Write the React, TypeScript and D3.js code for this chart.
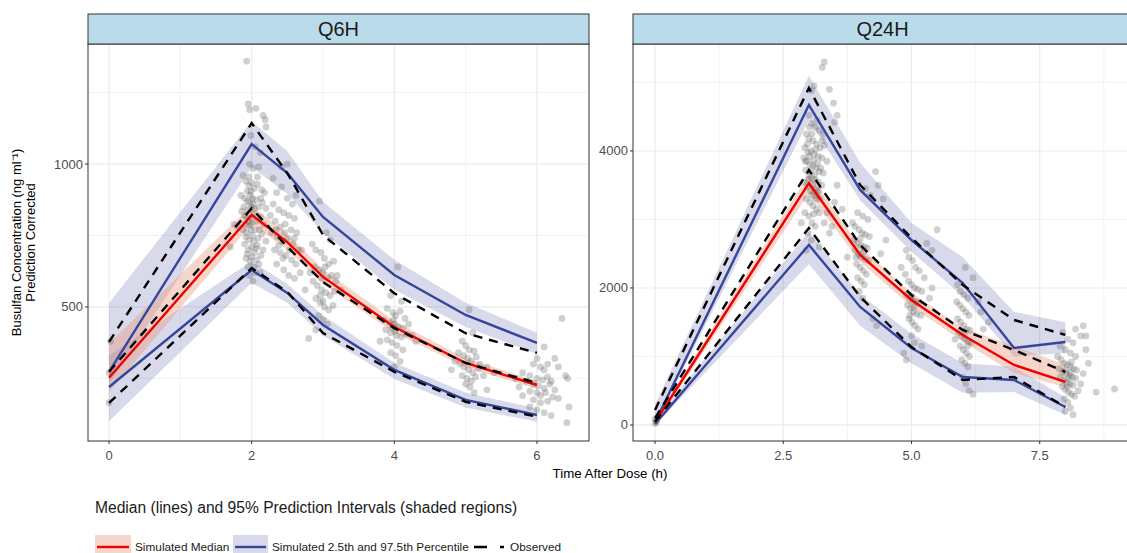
import * as d3 from 'd3';

type Pt = [number, number];

// ---- Q6H panel ----
const Q6H_TIME = [0, 2, 2.5, 3, 4, 5, 6];
const Q6H_SIM_MEDIAN = [252, 822, 727, 605, 430, 304, 227];
const Q6H_SIM_LOW = [220, 629, 549, 437, 280, 175, 122];
const Q6H_SIM_HIGH = [273, 1070, 968, 815, 612, 472, 374];
const Q6H_OBS_MEDIAN = [273, 845, 710, 587, 426, 304, 234];
const Q6H_OBS_LOW = [164, 636, 553, 409, 273, 168, 116];
const Q6H_OBS_HIGH = [378, 1143, 968, 752, 548, 408, 339];
const Q6H_MED_BAND_LO = [202, 790, 700, 580, 410, 290, 213];
const Q6H_MED_BAND_HI = [373, 855, 755, 632, 452, 320, 242];
const Q6H_HIGH_BAND_LO = [230, 990, 895, 760, 560, 430, 335];
const Q6H_HIGH_BAND_HI = [514, 1150, 1045, 868, 665, 515, 410];
const Q6H_LOW_BAND_LO = [100, 585, 515, 400, 248, 148, 98];
const Q6H_LOW_BAND_HI = [330, 660, 580, 470, 305, 200, 145];

const Q6H_POINTS: Pt[] = [
  [0.0, 165], [0.02, 380], [0.0, 270],
  [1.93, 1360], [1.95, 1210], [1.97, 1190], [2.06, 1195], [2.16, 1170], [2.19, 1155], [2.2, 1130],
  [1.99, 1100], [2.05, 1060], [2.12, 1040], [1.97, 1000], [2.02, 985], [2.1, 990], [1.88, 960],
  [1.92, 940], [1.96, 925], [2.0, 935], [2.04, 915], [2.08, 930], [2.14, 910], [2.18, 900],
  [1.85, 890], [1.9, 880], [1.94, 870], [1.98, 890], [2.02, 860], [2.06, 875], [2.1, 850],
  [2.15, 865], [2.2, 845], [1.86, 835], [1.9, 820], [1.95, 840], [1.99, 810], [2.03, 825],
  [2.07, 800], [2.12, 815], [2.17, 790], [1.8, 780], [1.88, 770], [1.93, 760], [1.97, 785],
  [2.01, 750], [2.05, 770], [2.09, 740], [2.14, 755], [2.2, 730], [1.9, 720], [1.95, 700],
  [2.0, 710], [2.04, 690], [2.08, 715], [2.13, 680], [1.92, 670], [1.98, 660], [2.03, 640],
  [2.1, 650], [1.97, 610], [2.02, 590], [2.05, 620], [1.75, 790], [1.7, 710],
  [1.96, 955], [1.99, 905], [2.01, 880], [1.94, 905], [1.97, 865], [2.0, 850], [1.93, 815],
  [1.96, 800], [2.0, 790], [2.04, 845], [1.92, 745], [1.96, 735], [1.99, 770], [2.03, 730],
  [2.06, 705], [2.11, 770], [1.94, 685], [2.0, 675], [2.07, 665], [2.16, 700], [1.91, 790],
  [1.89, 850], [2.08, 955], [2.13, 880], [1.95, 640], [2.12, 620],
  [2.3, 950], [2.35, 900], [2.42, 920], [2.5, 880], [2.57, 860], [2.62, 890], [2.3, 860],
  [2.38, 840], [2.45, 830], [2.52, 820], [2.6, 810], [2.33, 800], [2.4, 780], [2.47, 790],
  [2.55, 770], [2.63, 760], [2.28, 760], [2.36, 745], [2.44, 730], [2.5, 740], [2.58, 720],
  [2.65, 700], [2.32, 700], [2.4, 690], [2.48, 680], [2.56, 665], [2.62, 650], [2.35, 650],
  [2.45, 630], [2.52, 610], [2.6, 600], [2.42, 990], [2.5, 1000], [2.7, 700], [2.68, 620],
  [2.26, 820], [2.34, 770], [2.46, 760], [2.53, 700], [2.6, 740], [2.38, 715], [2.44, 670],
  [2.95, 870], [3.05, 760], [3.1, 735], [2.85, 720], [2.9, 700], [2.97, 690], [3.02, 670],
  [3.08, 650], [3.15, 660], [2.88, 640], [2.94, 630], [3.0, 620], [3.06, 600], [3.12, 610],
  [3.18, 590], [2.86, 590], [2.92, 575], [2.98, 560], [3.04, 550], [3.1, 540], [3.16, 555],
  [2.9, 530], [2.96, 515], [3.02, 500], [3.08, 490], [3.14, 505], [2.94, 470], [3.0, 455],
  [3.06, 440], [2.8, 390], [2.9, 420], [3.2, 610], [3.25, 560], [2.75, 560], [2.82, 620],
  [2.98, 600], [3.03, 640], [2.96, 540], [3.0, 520],
  [4.05, 640], [3.95, 540], [4.1, 520], [3.9, 495], [3.98, 480], [4.02, 470], [4.08, 485],
  [4.15, 460], [3.85, 455], [3.93, 445], [4.0, 440], [4.05, 430], [4.12, 425], [4.2, 440],
  [3.88, 420], [3.95, 410], [4.03, 400], [4.1, 395], [4.18, 405], [3.9, 385], [3.97, 375],
  [4.04, 365], [4.12, 350], [3.95, 340], [4.02, 330], [4.08, 310], [3.8, 380], [4.3, 380],
  [4.25, 400], [4.0, 290], [3.99, 455], [4.01, 415], [3.97, 430],
  [5.05, 490], [5.1, 410], [4.95, 380], [5.0, 365], [5.05, 350], [5.12, 345], [4.9, 340],
  [4.97, 330], [5.03, 320], [5.08, 310], [5.15, 325], [5.2, 300], [4.92, 300], [4.98, 290],
  [5.04, 280], [5.1, 270], [5.18, 285], [4.95, 260], [5.02, 250], [5.08, 240], [5.14, 255],
  [5.0, 230], [5.06, 220], [4.85, 310], [5.3, 290], [5.25, 260], [5.4, 270], [5.3, 210],
  [4.8, 280], [5.12, 200],
  [6.35, 460], [6.1, 360], [6.0, 320], [5.95, 300], [6.05, 290], [6.1, 280], [6.15, 300],
  [5.8, 270], [5.9, 260], [6.0, 250], [6.08, 245], [6.15, 255], [6.2, 240], [5.85, 240],
  [5.95, 230], [6.02, 225], [6.1, 215], [6.18, 230], [6.25, 210], [5.75, 220], [5.9, 205],
  [6.0, 200], [6.05, 190], [6.12, 200], [6.22, 185], [5.8, 190], [5.95, 175], [6.05, 165],
  [6.15, 170], [6.3, 180], [5.9, 150], [6.0, 140], [6.1, 130], [6.2, 120], [6.42, 95],
  [6.45, 150], [6.4, 260], [6.3, 290], [6.25, 320], [5.7, 250], [6.43, 250],
];

// ---- Q24H panel ----
const Q24H_TIME = [0, 3, 4, 5, 6, 7, 8];
const Q24H_SIM_MEDIAN = [40, 3530, 2482, 1825, 1314, 876, 628];
const Q24H_SIM_LOW = [15, 2628, 1723, 1124, 701, 657, 263];
const Q24H_SIM_HIGH = [40, 4672, 3431, 2700, 2073, 1124, 1212];
const Q24H_OBS_MEDIAN = [100, 3723, 2628, 1898, 1387, 1095, 774];
const Q24H_OBS_LOW = [50, 2876, 1869, 1139, 657, 701, 263];
const Q24H_OBS_HIGH = [220, 4920, 3504, 2730, 2044, 1533, 1314];
const Q24H_MED_BAND_LO = [0, 3380, 2380, 1730, 1220, 760, 550];
const Q24H_MED_BAND_HI = [80, 3660, 2600, 1930, 1420, 1150, 880];
const Q24H_HIGH_BAND_LO = [0, 4450, 3280, 2530, 1880, 1000, 1050];
const Q24H_HIGH_BAND_HI = [300, 5100, 3830, 2950, 2450, 1650, 1500];
const Q24H_LOW_BAND_LO = [0, 2350, 1450, 900, 470, 480, 150];
const Q24H_LOW_BAND_HI = [80, 2820, 1900, 1330, 900, 850, 400];

const Q24H_POINTS: Pt[] = [
  [0, 20], [0.02, 60], [0.0, 90], [0.03, 40],
  [3.3, 5300], [3.26, 5220], [3.1, 4950], [3.05, 4880], [3.4, 4900], [3.48, 4700], [3.55, 4520],
  [3.5, 4420], [3.0, 4520], [3.05, 4400], [3.12, 4350], [3.2, 4300], [3.28, 4250], [2.95, 4250],
  [3.0, 4180], [3.08, 4150], [3.15, 4100], [3.22, 4050], [3.3, 4080], [2.92, 4050], [2.98, 3980],
  [3.04, 4000], [3.1, 3950], [3.18, 3920], [3.25, 3900], [3.35, 3850], [2.9, 3900], [2.96, 3850],
  [3.02, 3800], [3.08, 3780], [3.14, 3750], [3.2, 3700], [3.28, 3680], [2.94, 3720], [3.0, 3650],
  [3.06, 3600], [3.12, 3580], [3.18, 3550], [3.25, 3500], [2.9, 3550], [2.97, 3480], [3.03, 3420],
  [3.1, 3400], [3.16, 3350], [3.22, 3300], [2.95, 3300], [3.02, 3250], [3.08, 3200], [3.15, 3150],
  [3.2, 3100], [2.92, 3100], [3.0, 3050], [3.06, 2950], [3.12, 2900], [2.98, 2800], [3.05, 2700],
  [3.3, 2950], [3.35, 3100], [3.4, 2800], [3.45, 2900], [2.85, 2950], [3.5, 3250], [3.55, 3500],
  [3.65, 3150], [2.95, 2550], [3.2, 2600],
  [2.97, 4100], [3.01, 3920], [3.06, 4250], [3.09, 3860], [3.13, 4020], [3.17, 3820], [3.03, 3700],
  [2.99, 3580], [3.07, 3500], [3.11, 3650], [3.15, 3450], [3.19, 3420], [3.05, 3350], [3.13, 3300],
  [2.93, 3850], [3.23, 3750], [3.26, 4150], [3.01, 4350], [3.16, 4450], [3.09, 3080],
  [4.3, 3700], [4.1, 3450], [4.2, 3350], [3.95, 3100], [4.05, 3050], [4.15, 3000], [3.85, 2950],
  [3.9, 2900], [3.98, 2850], [4.04, 2800], [4.1, 2780], [4.18, 2750], [3.88, 2700], [3.95, 2650],
  [4.02, 2620], [4.08, 2600], [4.14, 2580], [3.9, 2550], [3.97, 2500], [4.03, 2450], [4.1, 2420],
  [4.16, 2400], [3.93, 2350], [4.0, 2300], [4.06, 2250], [4.12, 2200], [3.95, 2150], [4.02, 2100],
  [4.08, 2050], [3.98, 1950], [4.05, 1850], [4.25, 1550], [4.32, 1450], [4.5, 2700], [4.4, 2500],
  [3.75, 2450], [4.35, 3500], [4.45, 3300], [4.0, 2720], [4.06, 2520], [3.92, 2450],
  [5.5, 2850], [5.3, 2650], [5.4, 2550], [4.9, 2550], [4.95, 2450], [5.02, 2400], [5.08, 2300],
  [5.15, 2250], [4.88, 2200], [4.94, 2100], [5.0, 2050], [5.06, 2000], [5.12, 1980], [5.2, 1950],
  [4.9, 1900], [4.96, 1850], [5.02, 1820], [5.08, 1800], [5.14, 1780], [4.92, 1750], [4.98, 1700],
  [5.04, 1650], [5.1, 1620], [5.18, 1600], [4.95, 1550], [5.01, 1500], [5.07, 1450], [5.13, 1400],
  [5.0, 1300], [5.06, 1200], [5.2, 1150], [4.85, 1050], [4.9, 950], [5.25, 2150], [5.35, 1850],
  [5.4, 2000], [4.8, 2300], [5.0, 1880], [5.05, 1720], [4.97, 1600],
  [6.05, 2300], [6.2, 2150], [5.9, 2050], [5.95, 1950], [6.02, 1900], [6.1, 1850], [5.88, 1800],
  [5.94, 1750], [6.0, 1700], [6.06, 1650], [6.12, 1600], [5.9, 1550], [5.96, 1500], [6.02, 1450],
  [6.08, 1400], [6.14, 1380], [5.92, 1350], [5.98, 1300], [6.04, 1250], [6.1, 1220], [6.16, 1200],
  [5.95, 1150], [6.01, 1100], [6.07, 1050], [6.13, 1000], [5.98, 950], [6.04, 900], [6.1, 850],
  [6.0, 700], [6.06, 600], [6.12, 500], [6.2, 450], [6.3, 1800], [6.4, 1400], [6.35, 1650],
  [6.5, 1500], [5.85, 1250], [6.03, 1330], [6.09, 1150],
  [8.35, 1450], [8.2, 1400], [8.4, 1300], [8.3, 1300], [7.95, 1350], [8.05, 1250], [8.15, 1200],
  [7.9, 1150], [8.0, 1100], [8.1, 1050], [8.2, 1000], [7.85, 1000], [7.92, 950], [7.98, 900],
  [8.04, 880], [8.1, 850], [8.16, 820], [8.22, 800], [7.88, 820], [7.95, 780], [8.02, 750],
  [8.08, 720], [8.14, 700], [8.2, 680], [7.9, 700], [7.97, 650], [8.03, 620], [8.09, 600],
  [8.15, 580], [7.94, 560], [8.0, 520], [8.06, 480], [8.12, 450], [8.18, 420], [7.98, 380],
  [8.05, 330], [8.1, 250], [8.15, 150], [8.0, 200], [8.3, 600], [8.35, 750], [8.45, 900],
  [8.6, 480], [8.96, 525], [8.4, 1100], [8.25, 500], [8.06, 680], [8.1, 760], [8.01, 800],
  [8.12, 920], [8.04, 560],
];

const FONT = '"Liberation Sans", Arial, Helvetica, sans-serif';
const PANEL_TOP = 44;
const PANEL_BOTTOM = 441;
const STRIP_TOP = 14;

const RED = '#ee0000';
const BLUE = '#36459b';
const BLUE_FILL = 'rgba(58,71,155,0.2)';
const SALMON_FILL = 'rgba(233,150,122,0.4)';

interface PanelData {
  time: number[];
  simMedian: number[];
  simLow: number[];
  simHigh: number[];
  obsMedian: number[];
  obsLow: number[];
  obsHigh: number[];
  medBand: [number[], number[]];
  highBand: [number[], number[]];
  lowBand: [number[], number[]];
  points: Pt[];
}

interface PanelProps {
  id: string;
  title: string;
  left: number;
  right: number;
  xDomain: [number, number];
  yDomain: [number, number];
  xMajor: number[];
  xMinor: number[];
  yMajor: number[];
  yMinor: number[];
  xFormat: (v: number) => string;
  data: PanelData;
}

const Panel = ({ id, title, left, right, xDomain, yDomain, xMajor, xMinor, yMajor, yMinor, xFormat, data }: PanelProps) => {
  const x = d3.scaleLinear().domain(xDomain).range([left, right]);
  const y = d3.scaleLinear().domain(yDomain).range([PANEL_BOTTOM, PANEL_TOP]);

  const line = (vals: number[]) =>
    d3.line<number>().x((_, i) => x(data.time[i])).y(v => y(v))(vals) || '';
  const band = ([lo, hi]: [number[], number[]]) =>
    d3.area<number>()
      .x((_, i) => x(data.time[i]))
      .y0((_, i) => y(lo[i]))
      .y1((_, i) => y(hi[i]))(lo) || '';

  return (
    <g>
      <defs>
        <clipPath id={`clip-${id}`}>
          <rect x={left} y={PANEL_TOP} width={right - left} height={PANEL_BOTTOM - PANEL_TOP} />
        </clipPath>
      </defs>
      <rect x={left} y={PANEL_TOP} width={right - left} height={PANEL_BOTTOM - PANEL_TOP} fill="#fff" />

      {/* grille */}
      {xMinor.map(v => (
        <line key={`xm${v}`} x1={x(v)} x2={x(v)} y1={PANEL_TOP} y2={PANEL_BOTTOM} stroke="#ebebeb" strokeWidth={0.6} />
      ))}
      {yMinor.map(v => (
        <line key={`ym${v}`} x1={left} x2={right} y1={y(v)} y2={y(v)} stroke="#ebebeb" strokeWidth={0.6} />
      ))}
      {xMajor.map(v => (
        <line key={`xM${v}`} x1={x(v)} x2={x(v)} y1={PANEL_TOP} y2={PANEL_BOTTOM} stroke="#ebebeb" strokeWidth={1.2} />
      ))}
      {yMajor.map(v => (
        <line key={`yM${v}`} x1={left} x2={right} y1={y(v)} y2={y(v)} stroke="#ebebeb" strokeWidth={1.2} />
      ))}

      <g clipPath={`url(#clip-${id})`}>
        <path d={band(data.highBand)} fill={BLUE_FILL} />
        <path d={band(data.lowBand)} fill={BLUE_FILL} />
        <path d={band(data.medBand)} fill={SALMON_FILL} />

        {data.points.map(([t, v], i) => (
          <circle key={i} cx={x(t)} cy={y(v)} r={3.4} fill="#555" fillOpacity={0.28} />
        ))}

        <path d={line(data.simHigh)} fill="none" stroke={BLUE} strokeWidth={2.4} />
        <path d={line(data.simLow)} fill="none" stroke={BLUE} strokeWidth={2.4} />
        <path d={line(data.simMedian)} fill="none" stroke={RED} strokeWidth={2.4} />
        {[data.obsHigh, data.obsMedian, data.obsLow].map((vals, i) => (
          <path key={i} d={line(vals)} fill="none" stroke="#000" strokeWidth={2.4} strokeDasharray="9,7" />
        ))}
      </g>

      <rect x={left} y={PANEL_TOP} width={right - left} height={PANEL_BOTTOM - PANEL_TOP} fill="none" stroke="#333" strokeWidth={1} />

      {/* bandeau */}
      <rect x={left} y={STRIP_TOP} width={right - left} height={PANEL_TOP - STRIP_TOP} fill="#badcea" stroke="#333" strokeWidth={1} />
      <text x={(left + right) / 2} y={(STRIP_TOP + PANEL_TOP) / 2 + 7} textAnchor="middle" fontSize={20} fill="#1a1a1a">
        {title}
      </text>

      {/* axes */}
      {xMajor.map(v => (
        <g key={`xt${v}`}>
          <line x1={x(v)} x2={x(v)} y1={PANEL_BOTTOM} y2={PANEL_BOTTOM + 3} stroke="#333" />
          <text x={x(v)} y={PANEL_BOTTOM + 19} textAnchor="middle" fontSize={13} fill="#4d4d4d">{xFormat(v)}</text>
        </g>
      ))}
      {yMajor.map(v => (
        <g key={`yt${v}`}>
          <line x1={left - 3} x2={left} y1={y(v)} y2={y(v)} stroke="#333" />
          <text x={left - 5} y={y(v) + 4.5} textAnchor="end" fontSize={13} fill="#4d4d4d">{v}</text>
        </g>
      ))}
    </g>
  );
};

const App = () => {
  const q6h: PanelData = {
    time: Q6H_TIME,
    simMedian: Q6H_SIM_MEDIAN, simLow: Q6H_SIM_LOW, simHigh: Q6H_SIM_HIGH,
    obsMedian: Q6H_OBS_MEDIAN, obsLow: Q6H_OBS_LOW, obsHigh: Q6H_OBS_HIGH,
    medBand: [Q6H_MED_BAND_LO, Q6H_MED_BAND_HI],
    highBand: [Q6H_HIGH_BAND_LO, Q6H_HIGH_BAND_HI],
    lowBand: [Q6H_LOW_BAND_LO, Q6H_LOW_BAND_HI],
    points: Q6H_POINTS,
  };
  const q24h: PanelData = {
    time: Q24H_TIME,
    simMedian: Q24H_SIM_MEDIAN, simLow: Q24H_SIM_LOW, simHigh: Q24H_SIM_HIGH,
    obsMedian: Q24H_OBS_MEDIAN, obsLow: Q24H_OBS_LOW, obsHigh: Q24H_OBS_HIGH,
    medBand: [Q24H_MED_BAND_LO, Q24H_MED_BAND_HI],
    highBand: [Q24H_HIGH_BAND_LO, Q24H_HIGH_BAND_HI],
    lowBand: [Q24H_LOW_BAND_LO, Q24H_LOW_BAND_HI],
    points: Q24H_POINTS,
  };

  const midY = (PANEL_TOP + PANEL_BOTTOM) / 2;

  return (
    <svg width={1127} height={553} style={{ position: 'absolute', left: 0, top: 0, background: '#fff' }} fontFamily={FONT}>
      <Panel
        id="q6h" title="Q6H" left={88} right={589}
        xDomain={[-0.295, 6.73]} yDomain={[31, 1420]}
        xMajor={[0, 2, 4, 6]} xMinor={[1, 3, 5]}
        yMajor={[500, 1000]} yMinor={[250, 750, 1250]}
        xFormat={d3.format('d')} data={q6h}
      />
      <Panel
        id="q24h" title="Q24H" left={633} right={1132}
        xDomain={[-0.43, 9.3]} yDomain={[-234, 5562]}
        xMajor={[0, 2.5, 5, 7.5]} xMinor={[1.25, 3.75, 6.25, 8.75]}
        yMajor={[0, 2000, 4000]} yMinor={[1000, 3000, 5000]}
        xFormat={d3.format('.1f')} data={q24h}
      />

      {/* titres des axes */}
      <text transform={`translate(21,${midY}) rotate(-90)`} textAnchor="middle" fontSize={13} fill="#000">
        Busulfan Concentration (ng ml⁻¹)
      </text>
      <text transform={`translate(35,${midY}) rotate(-90)`} textAnchor="middle" fontSize={13} fill="#000">
        Prediction Corrected
      </text>
      <text x={610} y={478} textAnchor="middle" fontSize={13.3} fill="#000">Time After Dose (h)</text>

      {/* légende */}
      <text x={95} y={513} fontSize={15.6} fill="#1a1a1a">Median (lines) and 95% Prediction Intervals (shaded regions)</text>
      <rect x={95} y={535} width={36} height={26} fill={SALMON_FILL} />
      <line x1={97} x2={129} y1={547} y2={547} stroke={RED} strokeWidth={2.4} />
      <text x={135} y={551} fontSize={11.8} fill="#1a1a1a">Simulated Median</text>
      <rect x={233} y={535} width={35} height={26} fill={BLUE_FILL} />
      <line x1={235} x2={266} y1={547} y2={547} stroke={BLUE} strokeWidth={2.4} />
      <text x={272} y={551} fontSize={11.8} fill="#1a1a1a">Simulated 2.5th and 97.5th Percentile</text>
      <line x1={474} x2={504} y1={547} y2={547} stroke="#000" strokeWidth={2.4} strokeDasharray="13,13" />
      <text x={510} y={551} fontSize={11.8} fill="#1a1a1a">Observed</text>
    </svg>
  );
};

export default App;
